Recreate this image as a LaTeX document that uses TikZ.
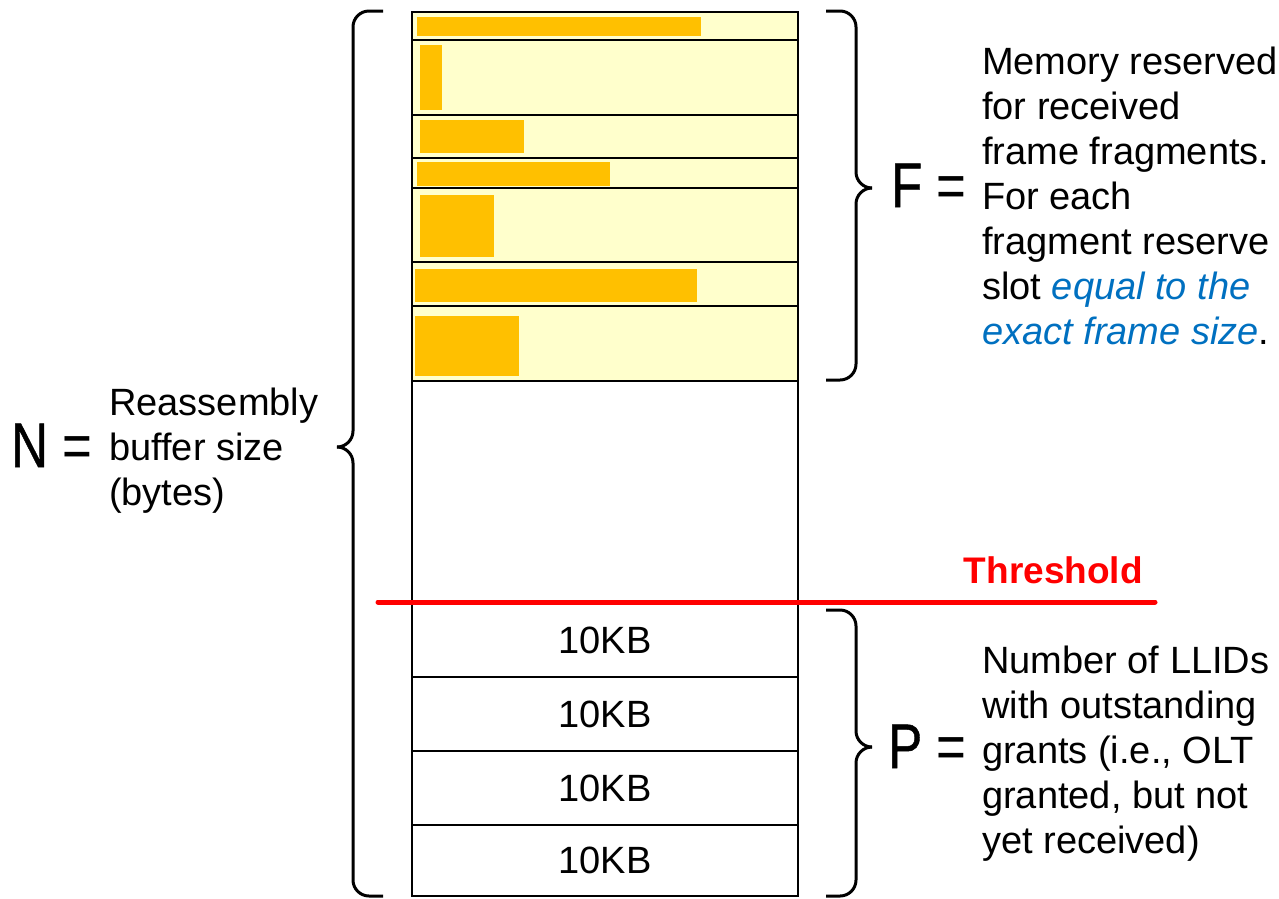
\documentclass[tikz,border=0pt]{standalone}
\usepackage{fontspec}
\setmainfont{Liberation Sans}
\newfontfamily\symfont[FakeBold=0.8]{Liberation Sans}
\usepackage{graphicx}
\usetikzlibrary{positioning}
\definecolor{slotyellow}{HTML}{FFFFCC}
\definecolor{fragorange}{HTML}{FFC000}
\definecolor{noteblue}{HTML}{0070C0}
\definecolor{threshred}{HTML}{FF0000}
\newcommand{\bigsym}[1]{\scalebox{0.81}[1]{\fontsize{63}{63}\selectfont{\symfont #1}\ =}}

\begin{document}
\begin{tikzpicture}[x=1pt, y=-1pt,
  font=\fontsize{38}{45}\selectfont,
  slot/.style={draw, line width=1.2pt, fill=slotyellow, minimum width=386pt,
    inner sep=0pt, outer sep=0pt},
  kbslot/.style={slot, fill=white, minimum height=74pt},
  frag/.style={fill=fragorange, anchor=north west, inner sep=0pt, outer sep=0pt},
  note/.style={align=left, anchor=north west, inner sep=0pt},
  sym/.style={anchor=base west, inner sep=0pt},
  brc/.style={line width=3pt, rounded corners=16pt},
  thresh/.style={line width=5pt, threshred, line cap=round}
]
  \useasboundingbox (0,0) rectangle (1279,898);

  % reserved slots
  \node[slot, anchor=north west, minimum height=28pt] (s1) at (412,12) {};
  \node[slot, below=0pt of s1, minimum height=75pt] (s2) {};
  \node[slot, below=0pt of s2, minimum height=43pt] (s3) {};
  \node[slot, below=0pt of s3, minimum height=30pt] (s4) {};
  \node[slot, below=0pt of s4, minimum height=74pt] (s5) {};
  \node[slot, below=0pt of s5, minimum height=44pt] (s6) {};
  \node[slot, below=0pt of s6, minimum height=75pt] (s7) {};

  % received fragments
  \node[frag, minimum width=284pt, minimum height=19pt] (f1) at (417,17) {};
  \node[frag, minimum width=22pt, minimum height=65pt] (f2) at (420,45) {};
  \node[frag, minimum width=104pt, minimum height=33pt] (f3) at (420,120) {};
  \node[frag, minimum width=193pt, minimum height=24pt] (f4) at (417,162) {};
  \node[frag, minimum width=74pt, minimum height=62pt] (f5) at (420,195) {};
  \node[frag, minimum width=282pt, minimum height=33pt] (f6) at (415,269) {};
  \node[frag, minimum width=104pt, minimum height=60pt] (f7) at (415,316) {};

  % free space and grant slots
  \node[slot, fill=white, below=0pt of s7, minimum height=222pt] (free) {};
  \node[kbslot, below=0pt of free] (kb1) {10KB};
  \node[kbslot, below=0pt of kb1] (kb2) {10KB};
  \node[kbslot, below=0pt of kb2] (kb3) {10KB};
  \node[kbslot, below=0pt of kb3, minimum height=71pt] (kb4) {10KB};

  % threshold
  \coordinate (thl) at (378,602);
  \coordinate (thr) at (1155,602);
  \draw[thresh] (thl) -- (thr);
  \node[anchor=base east, inner sep=0pt, text=threshred, font=\fontsize{37}{45}\selectfont\bfseries]
    (thlabel) at (1143,583) {Threshold};

  % braces
  \draw[brc] (383,11) -- (353,11) -- (353,447) -- (337,447);
  \draw[brc] (337,447) -- (353,447) -- (353,896) -- (383,896);
  \draw[brc] (826,11) -- (856,11) -- (856,188) -- (872,188);
  \draw[brc] (872,188) -- (856,188) -- (856,380) -- (826,380);
  \draw[brc] (826,610) -- (856,610) -- (856,747) -- (872,747);
  \draw[brc] (872,747) -- (856,747) -- (856,896) -- (826,896);

  % labels
  \node[sym] (nsym) at (11,467) {\bigsym{N}};
  \node[sym] (fsym) at (891,207) {\bigsym{F}};
  \node[sym] (psym) at (888,768) {\bigsym{P}};
  \node[note] (nnote) at (109,388) {Reassembly\\buffer size\\(bytes)};
  \node[note] (fnote) at (982,47) {Memory reserved\\for received\\frame fragments.\\For each\\fragment reserve\\slot \textcolor{noteblue}{\itshape equal to the}\\\textcolor{noteblue}{\itshape exact frame size}.};
  \node[note] (pnote) at (982,646) {Number of LLIDs\\with outstanding\\grants (i.e., OLT\\granted, but not\\yet received)};
\end{tikzpicture}
\end{document}
